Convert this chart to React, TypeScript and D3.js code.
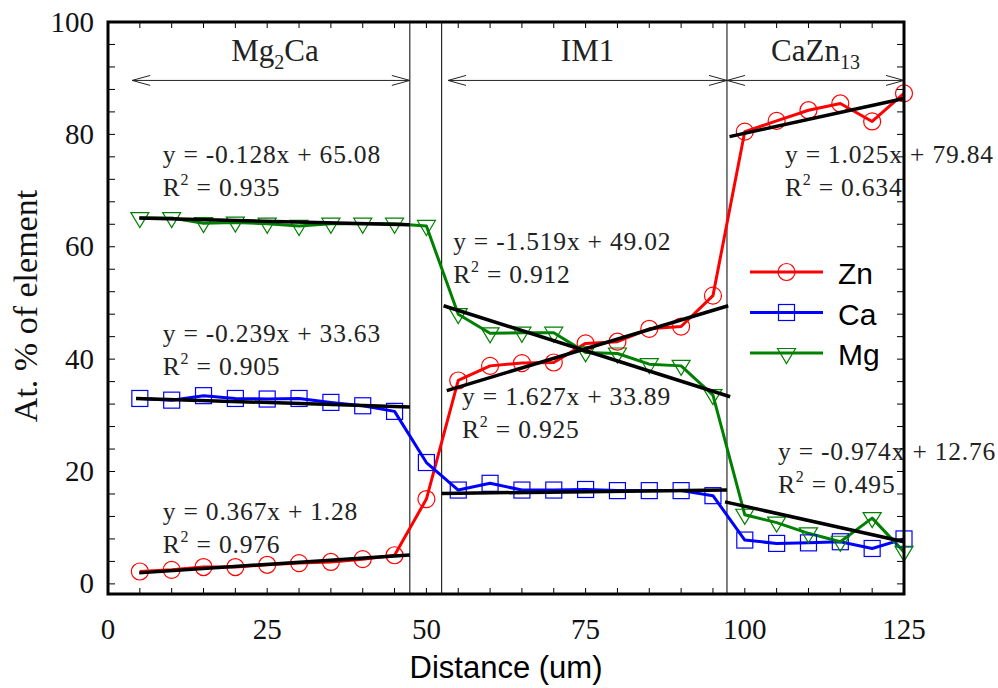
import React from "react";
import * as d3 from "d3";

// ---- Data ----
const distance = [5, 10, 15, 20, 25, 30, 35, 40, 45, 50, 55, 60, 65, 70, 75, 80, 85, 90, 95, 100, 105, 110, 115, 120, 125];
const zn = [2.2, 2.5, 3.0, 3.0, 3.4, 3.7, 3.9, 4.4, 5.1, 15.1, 36.2, 38.8, 39.3, 39.4, 42.8, 43.1, 45.4, 45.8, 51.3, 80.5, 82.4, 84.3, 85.5, 82.3, 87.3];
const ca = [33.0, 32.7, 33.5, 33.0, 32.9, 33.0, 32.3, 31.7, 30.7, 21.6, 16.7, 17.9, 16.7, 16.7, 16.8, 16.6, 16.6, 16.6, 15.7, 7.8, 7.2, 7.3, 7.5, 6.3, 8.0];
const mg = [65.1, 65.1, 64.2, 64.3, 64.1, 63.7, 64.1, 64.1, 64.1, 63.7, 48.0, 44.6, 44.7, 44.7, 41.2, 41.0, 39.1, 38.8, 33.6, 12.3, 10.9, 9.0, 7.5, 11.7, 5.7];

const seriesNames = ["Zn", "Ca", "Mg"];
const seriesColors = ["#ff0000", "#0000ff", "#008000"];
const seriesMarkers = ["circle", "square", "triangle"];

// trend lines: [x0, y0, x1, y1]
const trendLines = [
  [4.9, 65.1, 47.4, 63.9],
  [4.4, 33.0, 47.4, 31.5],
  [4.9, 1.96, 47.4, 5.16],
  [52.7, 49.5, 97.7, 33.3],
  [53.2, 34.4, 97.4, 49.5],
  [52.4, 16.1, 97.2, 16.7],
  [97.6, 79.6, 125, 86.4],
  [96.9, 14.6, 125, 7.5],
];

// trend equations: [eq, r2, x, y]
const equations: [string, string, number, number][] = [
  ["y = -0.128x + 65.08", "0.935", 8.6, 74.9],
  ["y = -0.239x + 33.63", "0.905", 8.6, 43.1],
  ["y = 0.367x + 1.28", "0.976", 8.6, 11.4],
  ["y = -1.519x + 49.02", "0.912", 54.2, 59.4],
  ["y = 1.627x + 33.89", "0.925", 55.6, 31.9],
  ["y = 1.025x + 79.84", "0.634", 106.3, 74.9],
  ["y = -0.974x + 12.76", "0.495", 105.2, 22.1],
];

const boundaries = [47.4, 52.4, 97.2];
// phases: [label main, subscript, trailing, x0, x1]
const phases: [string, string, string, number, number][] = [
  ["Mg", "2", "Ca", 3.8, 47.4],
  ["IM1", "", "", 53.4, 97.2],
  ["CaZn", "13", "", 97.2, 125],
];
const phaseArrowY = 89.6;

const xTickLabels = [0, 25, 50, 75, 100, 125];
const yTickLabels = [0, 20, 40, 60, 80, 100];

const W = 998;
const H = 688;
const L = 108, R = 904, T = 22, B = 594;

export default function App() {
  const x = d3.scaleLinear().domain([0, 125]).range([L, R]);
  const y = d3.scaleLinear().domain([-1.8, 100]).range([B, T]);
  const series = [zn, ca, mg];

  const line = d3
    .line<number>()
    .x((_, i) => x(distance[i]))
    .y((d) => y(d));

  const xMinor = d3.range(0, 126, 5);
  const yMinor = d3.range(0, 101, 4);

  const marker = (type: string, cx: number, cy: number, color: string, key: string) => {
    if (type === "circle")
      return <circle key={key} cx={cx} cy={cy} r={8.5} fill="none" stroke={color} strokeWidth={1.2} />;
    if (type === "square")
      return <rect key={key} x={cx - 8} y={cy - 8} width={16} height={16} fill="none" stroke={color} strokeWidth={1.2} />;
    return (
      <path
        key={key}
        d={`M${cx - 9},${cy - 5.5}L${cx + 9},${cy - 5.5}L${cx},${cy + 9.5}Z`}
        fill="none"
        stroke={color}
        strokeWidth={1.2}
      />
    );
  };

  const serif = "'Liberation Serif', 'Times New Roman', serif";
  const sans = "'Liberation Sans', Arial, sans-serif";

  const ay = y(phaseArrowY);

  return (
    <svg width={W} height={H} style={{ position: "absolute", left: 0, top: 0, background: "#fff" }}>
      <rect x={0} y={0} width={W} height={H} fill="#fff" />

      {/* boundaries */}
      {boundaries.map((b, i) => (
        <line key={"b" + i} x1={x(b)} x2={x(b)} y1={T} y2={B} stroke="#000" strokeWidth={1} />
      ))}

      {/* phase arrows */}
      {phases.map((p, i) => {
        const x0 = x(p[3]);
        const x1 = x(p[4]);
        const cx = (x0 + x1) / 2;
        return (
          <g key={"p" + i}>
            <line x1={x0} x2={x1} y1={ay} y2={ay} stroke="#222" strokeWidth={1} />
            <path d={`M${x0 + 18},${ay - 5}L${x0},${ay}L${x0 + 18},${ay + 5}`} fill="none" stroke="#222" strokeWidth={1} />
            <path d={`M${x1 - 18},${ay - 5}L${x1},${ay}L${x1 - 18},${ay + 5}`} fill="none" stroke="#222" strokeWidth={1} />
            <text x={cx + (i === 0 ? 4 : 0)} y={61} textAnchor="middle" fontFamily={serif} fontSize={31} fill="#222">
              {p[0]}
              {p[1] && (
                <tspan fontSize={20} dy={8}>
                  {p[1]}
                </tspan>
              )}
              {p[2] && <tspan dy={-8}>{p[2]}</tspan>}
            </text>
          </g>
        );
      })}

      {/* series lines */}
      {series.map((s, si) => (
        <path key={"l" + si} d={line(s) || ""} fill="none" stroke={seriesColors[si]} strokeWidth={3} strokeLinejoin="round" />
      ))}
      {series.map((s, si) => (
        <g key={"m" + si}>{s.map((v, i) => marker(seriesMarkers[si], x(distance[i]), y(v), seriesColors[si], `${si}-${i}`))}</g>
      ))}

      {/* trend lines */}
      {trendLines.map((t, i) => (
        <line key={"t" + i} x1={x(t[0])} y1={y(t[1])} x2={x(t[2])} y2={y(t[3])} stroke="#000" strokeWidth={3.5} />
      ))}

      {/* equations */}
      {equations.map((e, i) => (
        <g key={"e" + i} fontFamily={serif} fontSize={25.5} fill="#222" letterSpacing={0.8}>
          <text x={x(e[2])} y={y(e[3])}>{e[0]}</text>
          <text x={x(e[2])} y={y(e[3]) + 33}>
            R<tspan fontSize={16} dy={-11}>2</tspan>
            <tspan dy={11}> = {e[1]}</tspan>
          </text>
        </g>
      ))}

      {/* legend */}
      {seriesNames.map((n, i) => {
        const ly = 272 + i * 40.5;
        return (
          <g key={"lg" + i}>
            <line x1={750} x2={823} y1={ly} y2={ly} stroke={seriesColors[i]} strokeWidth={3} />
            {marker(seriesMarkers[i], 786.5, ly + (i === 2 ? 1 : 0), seriesColors[i], "lgm" + i)}
            <text x={838} y={ly + 12} fontFamily={sans} fontSize={30} fill="#000">
              {n}
            </text>
          </g>
        );
      })}

      {/* frame & ticks */}
      {xMinor.map((v, i) => (
        <g key={"xt" + i}>
          <line x1={x(v)} x2={x(v)} y1={B} y2={B - 6} stroke="#000" strokeWidth={1} />
          <line x1={x(v)} x2={x(v)} y1={T} y2={T + 6} stroke="#000" strokeWidth={1} />
        </g>
      ))}
      {yMinor.map((v, i) => (
        <g key={"yt" + i}>
          <line x1={L} x2={L + 7} y1={y(v)} y2={y(v)} stroke="#000" strokeWidth={1} />
          <line x1={R} x2={R - 7} y1={y(v)} y2={y(v)} stroke="#000" strokeWidth={1} />
        </g>
      ))}
      <rect x={L} y={T} width={R - L} height={B - T} fill="none" stroke="#000" strokeWidth={3} />

      {/* tick labels */}
      {xTickLabels.map((v) => (
        <text key={"xl" + v} x={x(v)} y={639} textAnchor="middle" fontFamily={serif} fontSize={29} fill="#111">
          {v}
        </text>
      ))}
      {yTickLabels.map((v) => (
        <text key={"yl" + v} x={94} y={y(v) + 9.5} textAnchor="end" fontFamily={serif} fontSize={29} fill="#111">
          {v}
        </text>
      ))}

      {/* axis titles */}
      <text x={(L + R) / 2} y={678} textAnchor="middle" fontFamily={sans} fontSize={31} fill="#000">
        Distance (um)
      </text>
      <text
        transform={`translate(37, 306) rotate(-90)`}
        textAnchor="middle"
        fontFamily={serif}
        fontSize={34}
        fill="#111"
      >
        At. % of element
      </text>
    </svg>
  );
}
